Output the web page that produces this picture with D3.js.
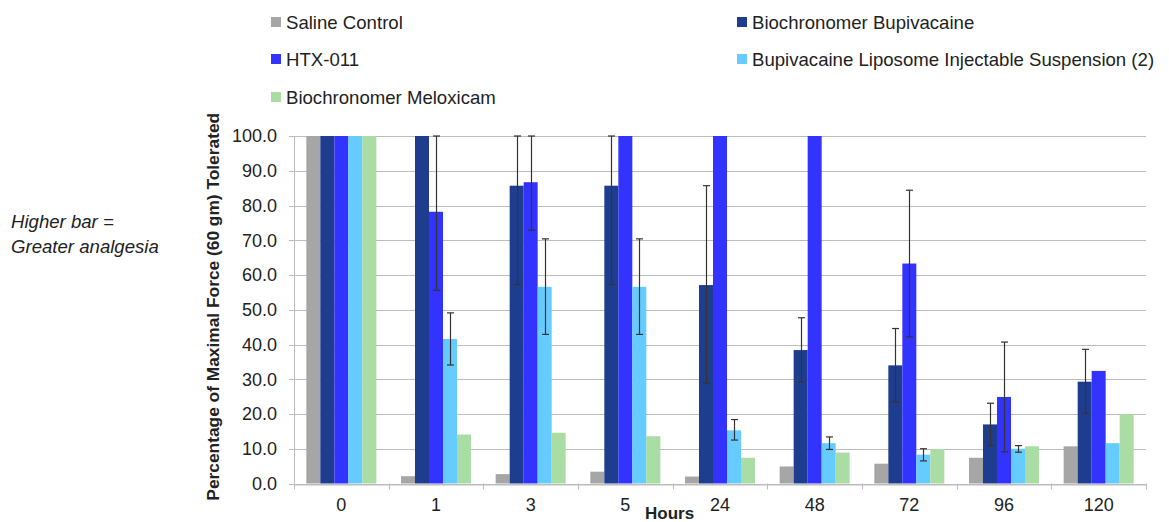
<!DOCTYPE html>
<html>
<head>
<meta charset="utf-8">
<script src="https://cdn.jsdelivr.net/npm/d3@7"></script>
<style>
  html, body { margin: 0; padding: 0; background: #fff; }
  svg { display: block; font-family: "Liberation Sans", Arial, sans-serif; }
</style>
</head>
<body>
<svg id="chart" width="1169" height="522"></svg>
<script>
// ---- data ----
const categories = ["0", "1", "3", "5", "24", "48", "72", "96", "120"];
const seriesNames = ["Saline Control", "Biochronomer Bupivacaine", "HTX-011",
  "Bupivacaine Liposome Injectable Suspension (2)", "Biochronomer Meloxicam"];
const seriesColors = ["#a6a6a6", "#1f3d8f", "#3333ff", "#66ccff", "#a9dda3"];

const saline = [100, 2.1, 2.7, 3.4, 2.0, 4.9, 5.7, 7.4, 10.7];
const bioBup = [100, 100, 85.7, 85.7, 57.1, 38.4, 34.0, 17.0, 29.3];
const htx    = [100, 78.2, 86.7, 100, 100, 100, 63.3, 24.9, 32.4];
const lipo   = [100, 41.6, 56.6, 56.6, 15.3, 11.6, 8.3, 10.0, 11.6];
const melox  = [100, 14.1, 14.6, 13.6, 7.4, 8.9, 9.9, 10.7, 19.9];

const salineErrHigh = [null, null, null, null, null, null, null, null, null];
const salineErrLow  = [null, null, null, null, null, null, null, null, null];
const bioBupErrHigh = [null, null, 100, 100, 85.7, 47.7, 44.6, 23.1, 38.6];
const bioBupErrLow  = [null, null, 57.3, 57.3, 28.9, 29.3, 23.5, 10.9, 20.2];
const htxErrHigh    = [null, 100, 100, null, null, null, 84.4, 40.7, null];
const htxErrLow     = [null, 55.6, 72.9, null, null, null, 42.2, 9.1, null];
const lipoErrHigh   = [null, 49.1, 70.4, 70.4, 18.4, 13.4, 10.0, 10.9, null];
const lipoErrLow    = [null, 34.1, 42.9, 42.9, 12.5, 9.8, 6.5, 9.0, null];
const meloxErrHigh  = [null, null, null, null, null, null, null, null, null];
const meloxErrLow   = [null, null, null, null, null, null, null, null, null];

const yTicks = [0, 10, 20, 30, 40, 50, 60, 70, 80, 90, 100];
const yTitle = "Percentage of Maximal Force (60 gm) Tolerated";
const xTitle = "Hours";
const noteLines = ["Higher bar =", "Greater analgesia"];

// ---- build ----
const values = [saline, bioBup, htx, lipo, melox];
const errHigh = [salineErrHigh, bioBupErrHigh, htxErrHigh, lipoErrHigh, meloxErrHigh];
const errLow = [salineErrLow, bioBupErrLow, htxErrLow, lipoErrLow, meloxErrLow];

const svg = d3.select("#chart");
const m = { left: 294, right: 1146, top: 136, bottom: 483.5 };

const x = d3.scaleBand().domain(categories).range([m.left, m.right]).padding(0);
const xs = d3.scaleBand().domain(d3.range(seriesNames.length))
  .range([0, x.bandwidth()]).paddingInner(0).paddingOuter(0.88);
const y = d3.scaleLinear().domain([0, 100]).range([m.bottom, m.top]);

const fontSize = 18;
const textSize = 18.6;
const gridColor = "#bcbcbc";

// gridlines
svg.append("g").selectAll("line").data(yTicks).join("line")
  .attr("x1", m.left - 5).attr("x2", m.right)
  .attr("y1", d => Math.round(y(d)) + 0.5).attr("y2", d => Math.round(y(d)) + 0.5)
  .attr("stroke", gridColor).attr("stroke-width", 1);

// y axis line
svg.append("line")
  .attr("x1", m.left + 0.5).attr("x2", m.left + 0.5)
  .attr("y1", m.top).attr("y2", m.bottom)
  .attr("stroke", gridColor);

// bars
const rows = [];
values.forEach((arr, si) => arr.forEach((v, ci) => rows.push({ si, ci, v })));
svg.append("g").selectAll("rect").data(rows).join("rect")
  .attr("x", d => x(categories[d.ci]) + xs(d.si))
  .attr("width", xs.bandwidth())
  .attr("y", d => y(d.v))
  .attr("height", d => y(0) - y(d.v))
  .attr("fill", d => seriesColors[d.si]);

// x axis
const xAxis = d3.axisBottom(x).tickSize(0).tickPadding(14);
const gx = svg.append("g").attr("transform", `translate(0,${Math.round(m.bottom) + 0.5})`).call(xAxis);
gx.select(".domain").attr("stroke", gridColor);
gx.selectAll("text").attr("font-size", fontSize).attr("fill", "#222")
  .attr("font-family", "Liberation Sans, Arial, sans-serif");
// category boundary ticks
const bounds = categories.map(c => x(c)).concat([m.right]);
svg.append("g").selectAll("line").data(bounds).join("line")
  .attr("x1", d => Math.round(d) + 0.5).attr("x2", d => Math.round(d) + 0.5)
  .attr("y1", m.bottom).attr("y2", m.bottom + 6)
  .attr("stroke", gridColor);

// y axis labels
const yAxis = d3.axisLeft(y).tickValues(yTicks).tickFormat(d3.format(".1f")).tickSize(0).tickPadding(17);
const gy = svg.append("g").attr("transform", `translate(${m.left},0)`).call(yAxis);
gy.select(".domain").remove();
gy.selectAll("text").attr("font-size", fontSize).attr("fill", "#222")
  .attr("font-family", "Liberation Sans, Arial, sans-serif");

// error bars
const errRows = [];
values.forEach((arr, si) => arr.forEach((v, ci) => {
  if (errHigh[si][ci] != null) errRows.push({ si, ci, hi: errHigh[si][ci], lo: errLow[si][ci] });
}));
const eg = svg.append("g").attr("stroke", "#333").attr("stroke-width", 1.2);
errRows.forEach(d => {
  const cx = Math.round(x(categories[d.ci]) + xs(d.si) + xs.bandwidth() / 2) + 0.5;
  eg.append("line").attr("x1", cx).attr("x2", cx).attr("y1", y(d.hi)).attr("y2", y(d.lo));
  eg.append("line").attr("x1", cx - 3.5).attr("x2", cx + 3.5).attr("y1", y(d.hi)).attr("y2", y(d.hi));
  eg.append("line").attr("x1", cx - 3.5).attr("x2", cx + 3.5).attr("y1", y(d.lo)).attr("y2", y(d.lo));
});

// y title
const yt = svg.append("text")
  .attr("transform", `translate(219,${(m.top + m.bottom) / 2 - 3}) rotate(-90)`)
  .attr("text-anchor", "middle")
  .attr("font-weight", "bold").attr("font-size", 15).attr("fill", "#222")
  .text(yTitle);
const yLen = yt.node().getComputedTextLength();
yt.attr("font-size", 15 * 388 / yLen);

// x title
svg.append("text").attr("x", 645).attr("y", 519)
  .attr("font-weight", "bold").attr("font-size", 17).attr("fill", "#222")
  .text(xTitle);

// note
svg.append("g").selectAll("text").data(noteLines).join("text")
  .attr("x", 11).attr("y", (d, i) => 228 + i * 25)
  .attr("font-style", "italic").attr("font-size", textSize).attr("fill", "#222")
  .text(d => d);

// legend
const legendPos = [
  { x: 271, y: 22 }, { x: 737, y: 22 },
  { x: 271, y: 59 }, { x: 737, y: 59 },
  { x: 271, y: 97 }
];
const lg = svg.append("g").selectAll("g").data(seriesNames).join("g")
  .attr("transform", (d, i) => `translate(${legendPos[i].x},${legendPos[i].y})`);
lg.append("rect").attr("x", 0).attr("y", -5).attr("width", 10).attr("height", 10)
  .attr("fill", (d, i) => seriesColors[i]);
lg.append("text").attr("x", 15).attr("y", 6.5)
  .attr("font-size", textSize).attr("fill", "#222")
  .text(d => d);
</script>
</body>
</html>
